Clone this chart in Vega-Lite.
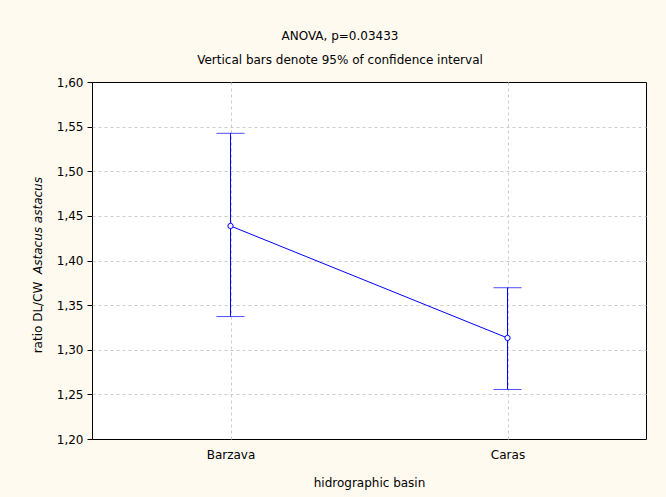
{
  "$schema": "https://vega.github.io/schema/vega-lite/v6.json",
  "width": 554,
  "height": 357,
  "autosize": "none",
  "padding": {"left": 92, "top": 82, "right": 20, "bottom": 58},
  "background": "#fffaf0",
  "title": {
    "text": "ANOVA, p=0.03433",
    "subtitle": "Vertical bars denote 95% of confidence interval",
    "anchor": "middle",
    "dx": -29,
    "fontSize": 12,
    "fontWeight": "normal",
    "subtitleFontSize": 12,
    "subtitlePadding": 12,
    "offset": 9,
    "color": "black",
    "subtitleColor": "black",
    "font": "DejaVu Sans",
    "subtitleFont": "DejaVu Sans"
  },
  "config": {
    "view": {"stroke": "black", "fill": "white", "strokeWidth": 1},
    "font": "DejaVu Sans",
    "axis": {
      "labelFont": "DejaVu Sans",
      "titleFont": "DejaVu Sans",
      "labelFontSize": 12,
      "titleFontSize": 12,
      "labelColor": "black",
      "titleColor": "black",
      "titleFontWeight": "normal",
      "domain": false,
      "tickColor": "black",
      "tickSize": 5,
      "gridColor": "#cccccc",
      "gridDash": [3, 3]
    }
  },
  "data": {
    "values": [
      {"basin": "Barzava", "mean": 1.4387, "lo": 1.3372, "hi": 1.5425},
      {"basin": "Caras", "mean": 1.3132, "lo": 1.2555, "hi": 1.3695}
    ]
  },
  "layer": [
    {
      "layer": [
        {
          "mark": {"type": "rule", "color": "#0000ff", "strokeWidth": 1},
          "encoding": {
            "x": {
              "field": "basin",
              "type": "nominal",
              "scale": {"type": "point", "padding": 0.5},
              "axis": {
                "title": "hidrographic basin",
                "labelAngle": 0,
                "labelPadding": 10,
                "titlePadding": 17,
                "grid": true,
                "ticks": false
              }
            },
            "y": {
              "field": "lo",
              "type": "quantitative",
              "scale": {"domain": [1.2, 1.6], "nice": false, "zero": false},
              "axis": {
                "title": "ratio DL/CW",
                "values": [1.2, 1.25, 1.3, 1.35, 1.4, 1.45, 1.5, 1.55, 1.6],
                "labelExpr": "replace(format(datum.value, '.2f'), '.', ',')",
                "labelPadding": 4,
                "grid": true,
                "gridOpacity": {"condition": {"test": "datum.value < 1.21 || datum.value > 1.59", "value": 0}, "value": 1},
                "titleAngle": -90,
                "titleX": -55,
                "titleY": 235,
                "titleAlign": "center",
                "titleBaseline": "middle"
              }
            },
            "y2": {"field": "hi"}
          }
        },
        {
          "mark": {"type": "tick", "color": "#0000ff", "size": 28, "thickness": 1},
          "encoding": {
            "x": {"field": "basin", "type": "nominal"},
            "y": {"field": "lo", "type": "quantitative"}
          }
        },
        {
          "mark": {"type": "tick", "color": "#0000ff", "size": 28, "thickness": 1},
          "encoding": {
            "x": {"field": "basin", "type": "nominal"},
            "y": {"field": "hi", "type": "quantitative"}
          }
        },
        {
          "mark": {"type": "line", "color": "#0000ff", "strokeWidth": 1},
          "encoding": {
            "x": {"field": "basin", "type": "nominal"},
            "y": {"field": "mean", "type": "quantitative"}
          }
        }
      ]
    },
    {
      "mark": {"type": "point", "filled": true, "fill": "white", "stroke": "#0000ff", "strokeWidth": 1, "size": 28, "opacity": 1},
      "encoding": {
        "x": {"field": "basin", "type": "nominal"},
        "y": {
          "field": "mean",
          "type": "quantitative",
          "axis": {
            "orient": "right",
            "title": "Astacus astacus",
            "titleFontStyle": "italic",
            "labels": false,
            "ticks": false,
            "grid": false,
            "domain": false,
            "titleAngle": -90,
            "titleX": -609,
            "titleY": 143,
            "titleAlign": "center",
            "titleBaseline": "middle"
          }
        }
      }
    }
  ],
  "resolve": {"axis": {"y": "independent"}}
}
